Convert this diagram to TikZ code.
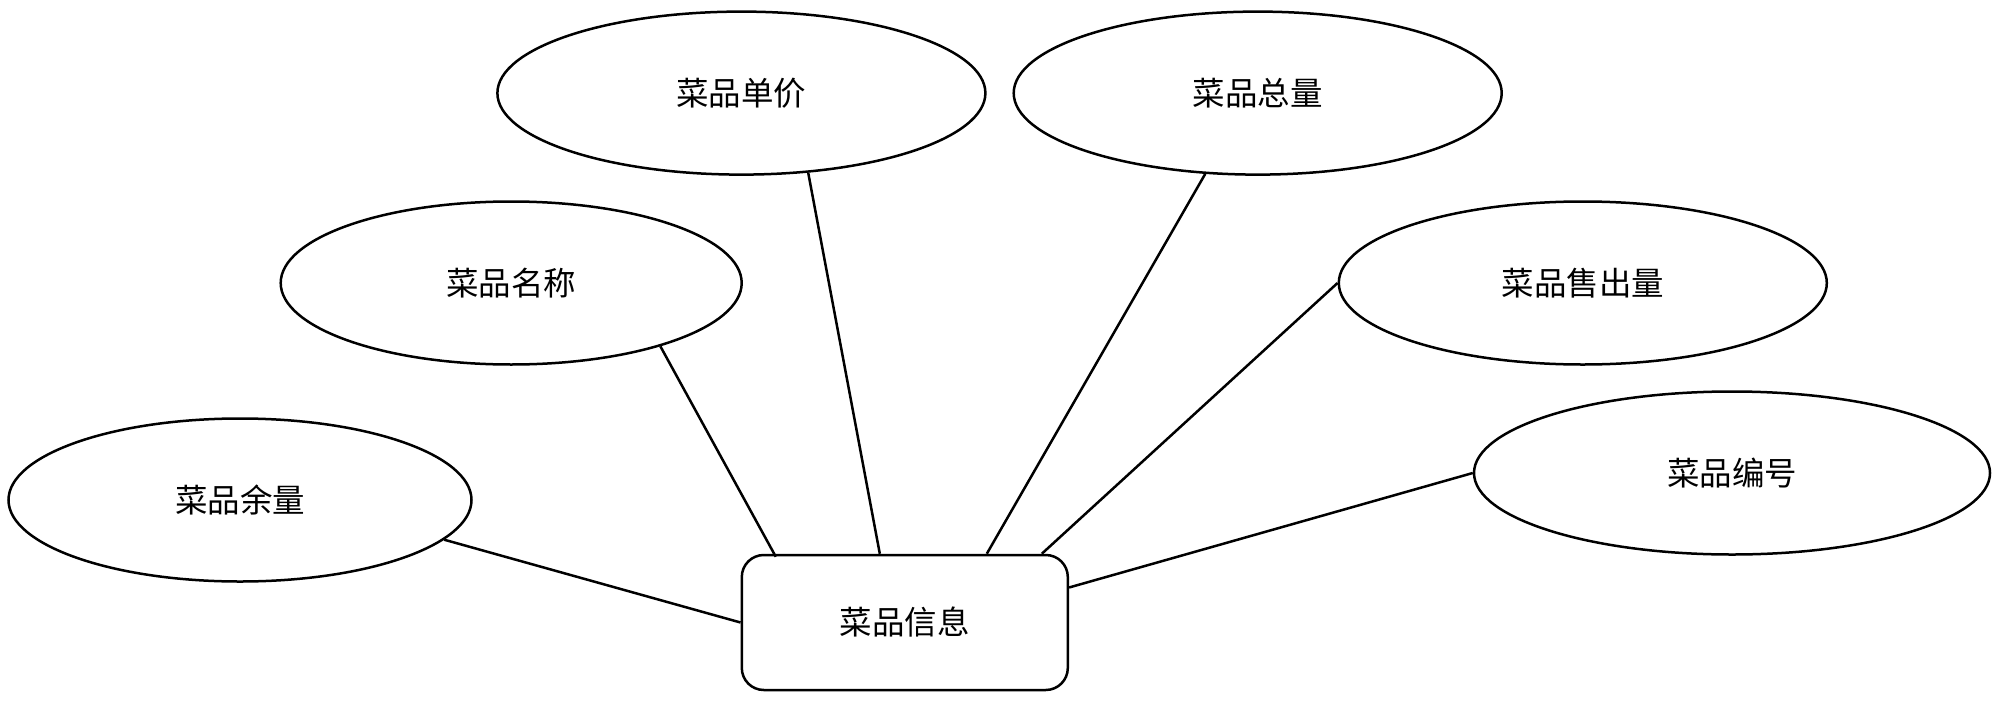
\documentclass[tikz,border=0pt]{standalone}
\usepackage{fontspec}
\setmainfont{Noto Sans CJK SC}
\usetikzlibrary{shapes.geometric}
\begin{document}
\begin{tikzpicture}[x=1pt,y=-1pt,
  attr/.style={draw, line width=2.5pt, ellipse, inner sep=0pt, minimum height=163pt, font=\fontsize{32.5}{38}\selectfont},
  ent/.style={draw, line width=2.5pt, rounded corners=22pt, inner sep=0pt, minimum width=326pt, minimum height=135pt, font=\fontsize{32.5}{38}\selectfont},
  link/.style={line width=2.5pt}]
\useasboundingbox (0,0) rectangle (1999,704);
\node[attr, minimum width=488pt] (danjia) at (741.4,93.1) {菜品单价};
\node[attr, minimum width=488pt] (zongliang) at (1257.7,93.1) {菜品总量};
\node[attr, minimum width=461pt] (mingcheng) at (511.2,283) {菜品名称};
\node[attr, minimum width=488pt] (shouchu) at (1582.8,283) {菜品售出量};
\node[attr, minimum width=463pt] (yuliang) at (240,500) {菜品余量};
\node[attr, minimum width=516pt] (bianhao) at (1732,473) {菜品编号};
\node[ent] (info) at (904.8,622.5) {菜品信息};
\draw[link] (yuliang.-11.4) -- (info.west);
\draw[link] (mingcheng.-23.5) -- ([xshift=-129pt,yshift=-3pt]info.north);
\draw[link] (danjia.-50) -- ([xshift=-25pt]info.north);
\draw[link] (zongliang.-123) -- ([xshift=82pt]info.north);
\draw[link] (shouchu.west) -- ([xshift=137pt]info.north);
\draw[link] (bianhao.west) -- ([yshift=35pt]info.east);
\end{tikzpicture}
\end{document}
